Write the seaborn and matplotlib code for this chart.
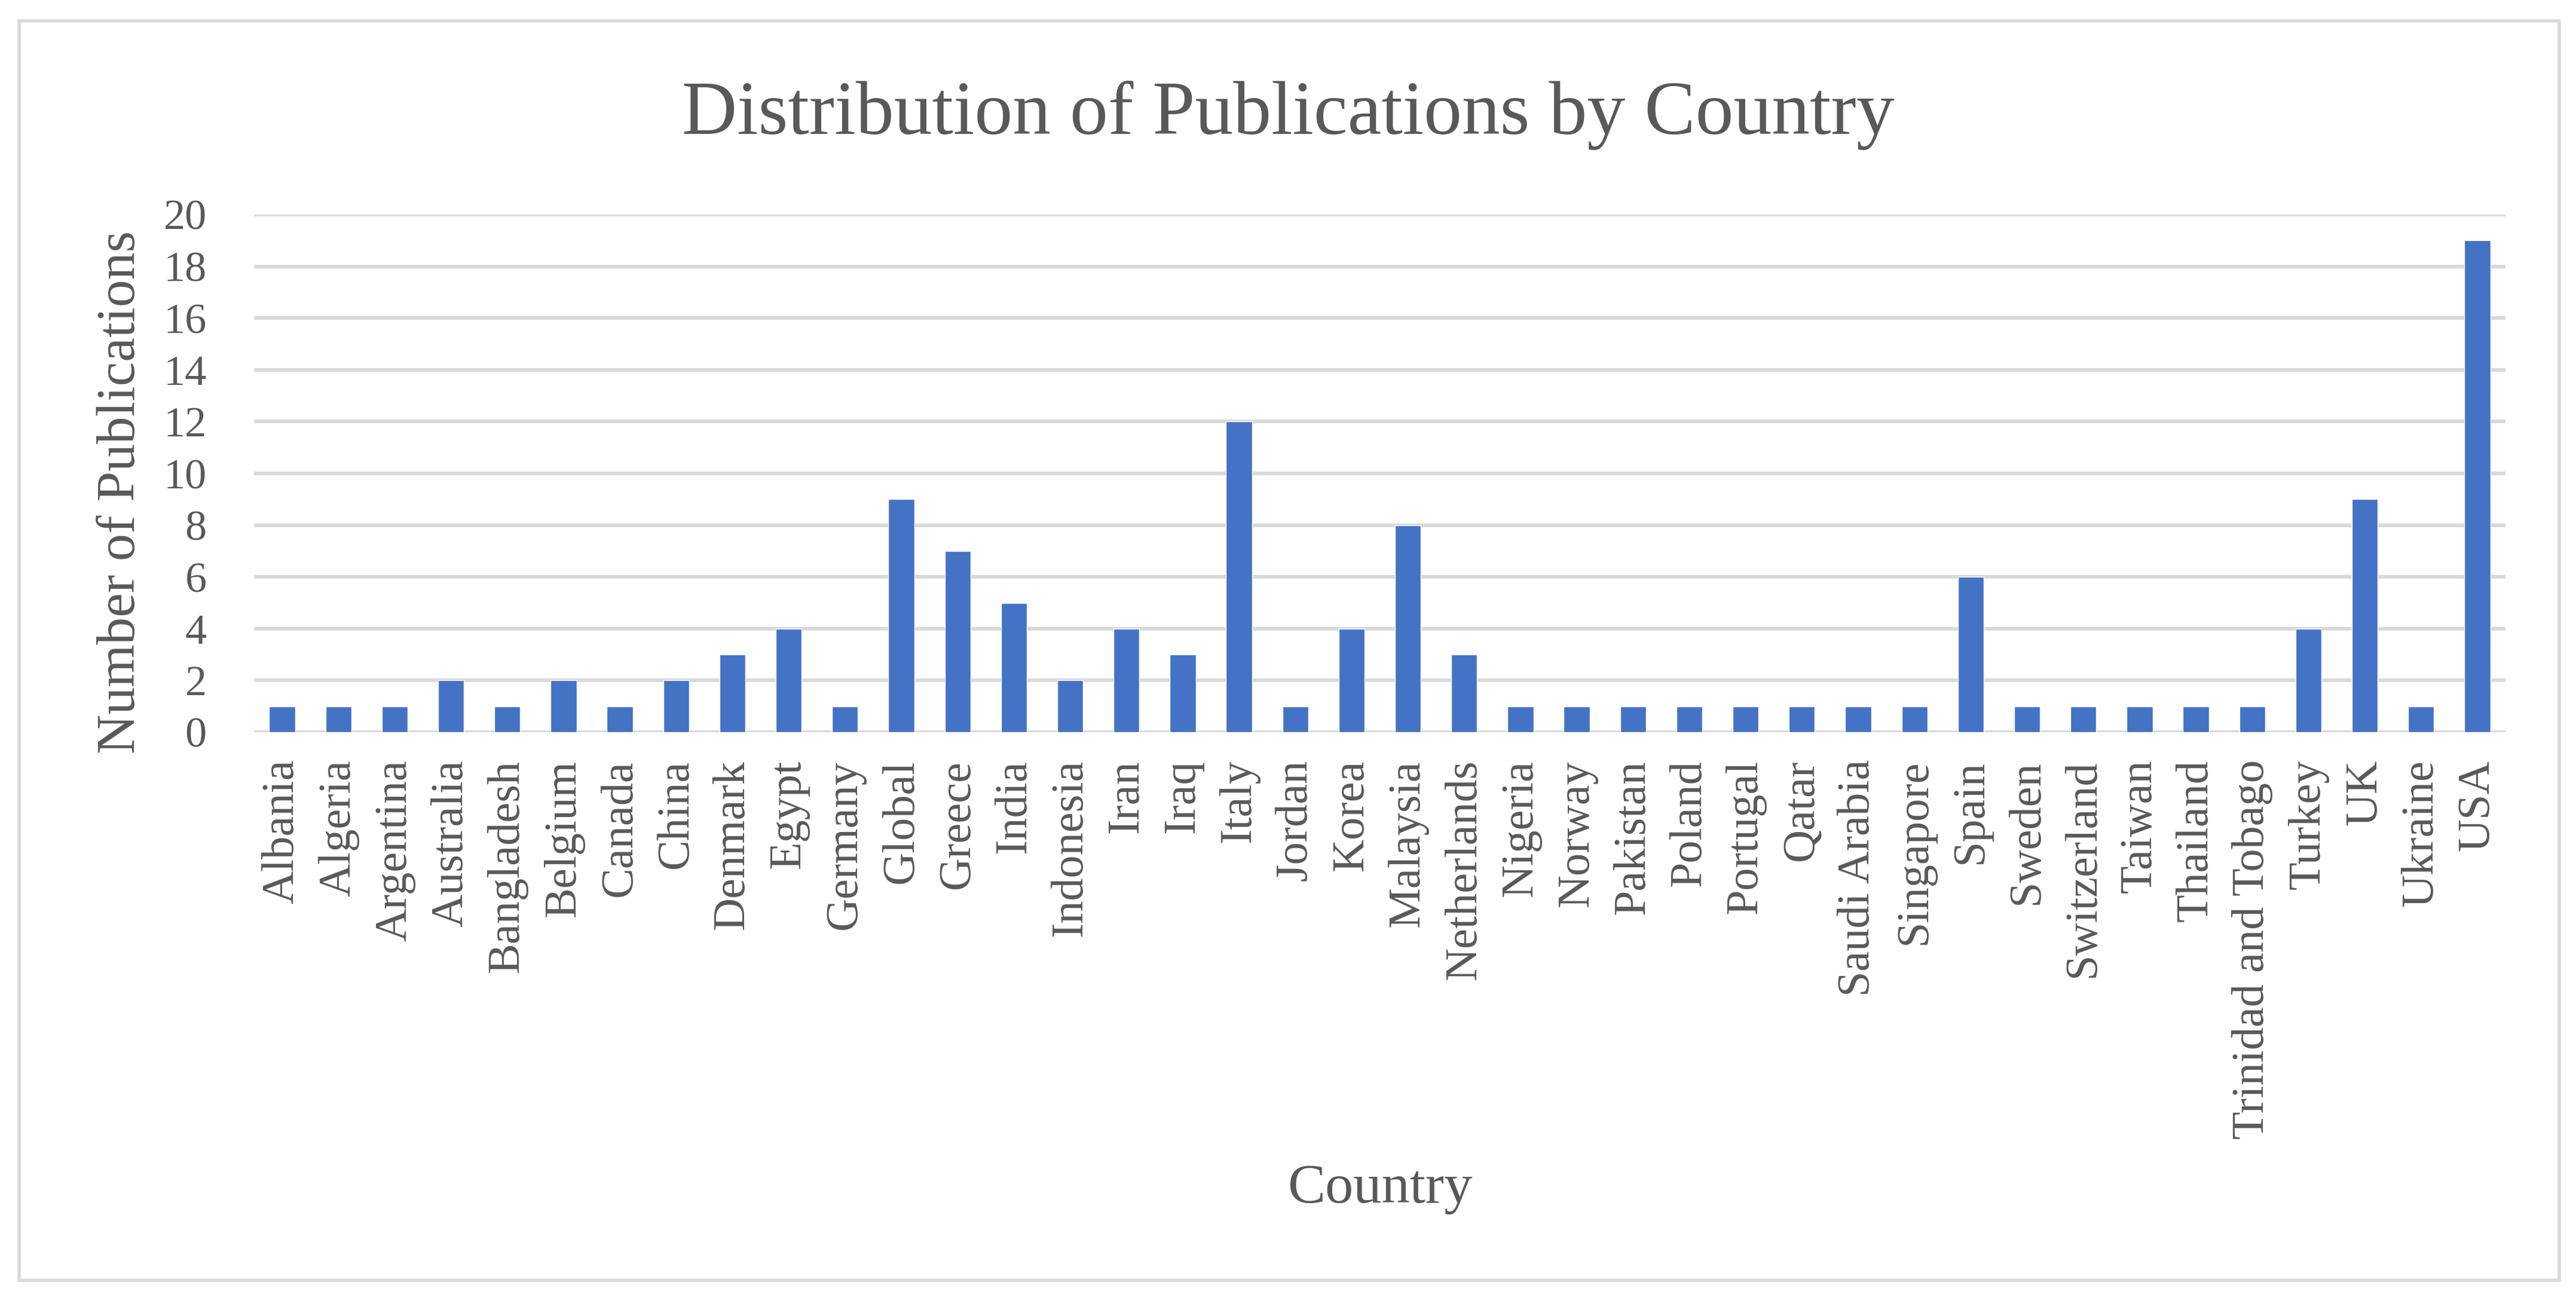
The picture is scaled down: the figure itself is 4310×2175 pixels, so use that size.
import matplotlib
matplotlib.use("Agg")
import matplotlib.pyplot as plt
import matplotlib.patches as mpatches
import seaborn as sns
import pandas as pd

# Data
countries = ['Albania', 'Algeria', 'Argentina', 'Australia', 'Bangladesh', 'Belgium',
             'Canada', 'China', 'Denmark', 'Egypt', 'Germany', 'Global', 'Greece',
             'India', 'Indonesia', 'Iran', 'Iraq', 'Italy', 'Jordan', 'Korea',
             'Malaysia', 'Netherlands', 'Nigeria', 'Norway', 'Pakistan', 'Poland',
             'Portugal', 'Qatar', 'Saudi Arabia', 'Singapore', 'Spain', 'Sweden',
             'Switzerland', 'Taiwan', 'Thailand', 'Trinidad and Tobago', 'Turkey',
             'UK', 'Ukraine', 'USA']
publications = [1, 1, 1, 2, 1, 2, 1, 2, 3, 4, 1, 9, 7, 5, 2, 4, 3, 12, 1, 4,
                8, 3, 1, 1, 1, 1, 1, 1, 1, 1, 6, 1, 1, 1, 1, 1, 4, 9, 1, 19]
y_ticks = list(range(0, 21, 2))

df = pd.DataFrame({'Country': countries, 'Publications': publications})

sns.set_style('white')
plt.rcParams['font.family'] = ['Liberation Serif', 'DejaVu Serif']
text_col = '#595959'
grid_col = '#d9d9d9'

W, H = 4310, 2175
fig = plt.figure(figsize=(W / 100, H / 100), dpi=100)
ax = fig.add_axes([425 / W, 1 - 1225 / H, (4192 - 425) / W, (1225 - 359) / H])

sns.barplot(data=df, x='Country', y='Publications', color='#4472C4',
            width=0.46, saturation=1, ax=ax, zorder=3)

ax.set_ylim(0, 20)
ax.set_yticks(y_ticks)
ax.yaxis.grid(True, color=grid_col, linewidth=4.5, zorder=0)
ax.set_axisbelow(True)
for s in ax.spines.values():
    s.set_visible(False)
ax.tick_params(axis='y', length=0, labelsize=52, labelcolor=text_col, pad=57)
ax.tick_params(axis='x', length=0, labelsize=55, labelcolor=text_col, pad=33,
               rotation=90)

ax.set_ylabel('Number of Publications', fontsize=66, color=text_col)
ax.yaxis.set_label_coords(-0.048, 0.464)
ax.set_xlabel('Country', fontsize=68, color=text_col, va='baseline')
ax.xaxis.set_label_coords(0.5, -0.909)

fig.text(0.5, 1 - 224 / H, 'Distribution of Publications by Country',
         fontsize=92, color=text_col, ha='center', va='baseline')

# chart border
fig.patches.append(mpatches.Rectangle((32 / W, 1 - 2142 / H), (4282 - 32) / W,
                                      (2142 - 35) / H, transform=fig.transFigure,
                                      fill=False, edgecolor=grid_col, linewidth=4))

fig.savefig('out.png', dpi=100, facecolor='white')
